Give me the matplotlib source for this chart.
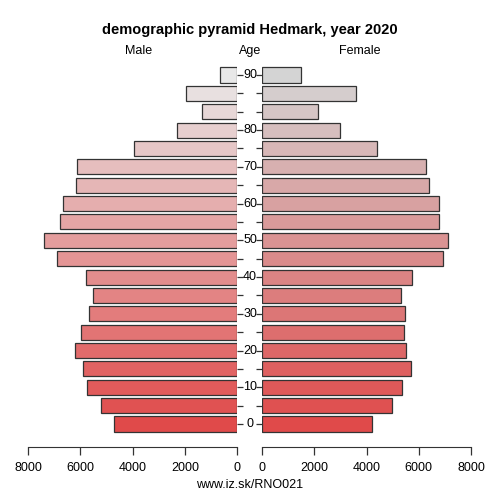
import matplotlib
matplotlib.use("Agg")
import matplotlib.pyplot as plt
import numpy as np

plt.rcParams['font.family'] = ['Liberation Sans', 'DejaVu Sans']

# age groups bottom (0) to top
age_labels = ["0", "", "10", "", "20", "", "30", "", "40", "", "50", "", "60", "", "70", "", "80", "", "", "90"]
male = [4700, 5230, 5740, 5890, 6200, 5970, 5660, 5530, 5800, 6890,
        7400, 6770, 6660, 6160, 6150, 3940, 2300, 1330, 1970, 650]
female = [4190, 4970, 5370, 5710, 5520, 5420, 5480, 5300, 5750, 6910,
          7100, 6760, 6780, 6400, 6290, 4410, 2970, 2150, 3600, 1470]
x_ticks = [0, 2000, 4000, 6000, 8000]

title = "demographic pyramid Hedmark, year 2020"
source = "www.iz.sk/RNO021"

W = H = 500
fig = plt.figure(figsize=(5, 5), dpi=100)

n = len(male)
ypos = np.arange(n)
px_per_unit = 349 / 19.0
top_px = 75 - 0.55 * px_per_unit
bot_px = 424 + 0.55 * px_per_unit


def frac_rect(x0, x1):
    return [x0 / W, 1 - bot_px / H, (x1 - x0) / W, (bot_px - top_px) / H]


red = np.array([224, 74, 74]) / 255.0
male_top = np.array([232, 232, 232]) / 255.0
fem_top = np.array([212, 212, 212]) / 255.0
t = ypos / (n - 1)
male_cols = [tuple(red * (1 - a) + male_top * a) for a in t]
fem_cols = [tuple(red * (1 - a) + fem_top * a) for a in t]

axL = fig.add_axes(frac_rect(28.3, 237.0))
axR = fig.add_axes(frac_rect(262.3, 471.0))

axL.barh(ypos, male, height=0.82, color=male_cols, edgecolor='#333333', linewidth=0.9)
axR.barh(ypos, female, height=0.82, color=fem_cols, edgecolor='#333333', linewidth=0.9)

axL.set_xlim(8000, 0)
axR.set_xlim(0, 8000)
for ax in (axL, axR):
    ax.set_ylim(-0.55, n - 1 + 0.55)
    for s in ('top', 'left', 'right'):
        ax.spines[s].set_visible(False)
    ax.spines['bottom'].set_position(('outward', 9))
    ax.spines['bottom'].set_bounds(0, 8000)
    ax.spines['bottom'].set_color('#333333')
    ax.set_xticks(x_ticks)
    ax.set_xticklabels([str(v) for v in x_ticks])
    ax.tick_params(axis='x', length=6, width=0.9, color='#333333', labelsize=9, pad=5)
    ax.set_yticks(ypos)
    ax.set_yticklabels([])

axL.yaxis.tick_right()
axL.tick_params(axis='y', length=4, width=0.9, color='#333333', direction='out')
axR.yaxis.tick_left()
axR.tick_params(axis='y', length=4, width=0.9, color='#333333', direction='out')

# age labels centered between the two panels
for i, lab in enumerate(age_labels):
    if lab:
        y_fig = 1 - (75 + (n - 1 - i) * px_per_unit) / H
        fig.text(0.5, y_fig, lab, ha='center', va='center', fontsize=9)

fig.text(0.5, 1 - 30 / H, title, ha='center', va='center', fontsize=10.5, fontweight='bold')
fig.text(139 / W, 1 - 51 / H, "Male", ha='center', va='center', fontsize=9)
fig.text(0.5, 1 - 51 / H, "Age", ha='center', va='center', fontsize=9)
fig.text(360 / W, 1 - 51 / H, "Female", ha='center', va='center', fontsize=9)
fig.text(0.5, 1 - 485 / H, source, ha='center', va='center', fontsize=9)

fig.savefig("out.png", dpi=100)
